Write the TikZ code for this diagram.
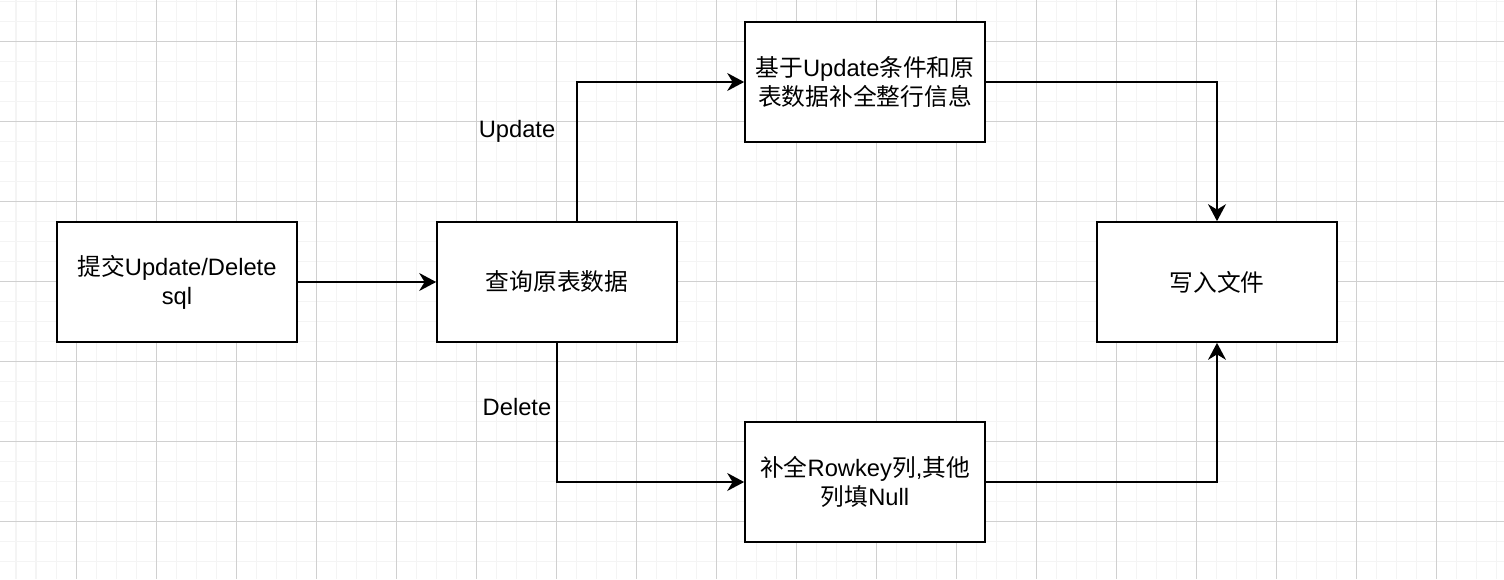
\documentclass[tikz,border=0pt]{standalone}
\usepackage{fontspec}
\setmainfont{Liberation Sans}
\newfontfamily\cjk{Noto Sans CJK SC}
\newcommand{\zh}[1]{{\cjk #1}}
\usetikzlibrary{arrows.meta}
\definecolor{gridminor}{HTML}{F4F4F4}
\definecolor{gridmajor}{HTML}{D0D0D0}

\begin{document}
\begin{tikzpicture}[x=0.02cm,y=-0.02cm]
				\tikzstyle{every node}+=[font=\fontsize{13.5}{16.5}\selectfont]
				\tikzstyle{box}=[draw=black, line width=1pt, fill=white, minimum width=4.8cm, minimum height=2.4cm, align=center, inner sep=0pt]
				\tikzstyle{flow}=[draw=black, line width=1pt, -{Stealth[length=0.34cm,width=0.36cm,inset=0.11cm]}]
				\useasboundingbox (0,0) rectangle (1504,579);
				\fill [white] (0,0) rectangle (1504,579);
				\foreach \x in {16,36,...,1500} \draw [gridminor, line width=0.57pt] (\x,0) -- (\x,579);
				\foreach \y in {1,21,...,579} \draw [gridminor, line width=0.57pt] (0,\y) -- (1504,\y);
				\foreach \x in {76,156,...,1500} \draw [gridmajor, line width=0.57pt] (\x,0) -- (\x,579);
				\foreach \y in {41,121,...,579} \draw [gridmajor, line width=0.57pt] (0,\y) -- (1504,\y);
				\node [box] (submit) at (177,282) {\zh{提交}Update/Delete\\sql};
				\node [box] (query) at (557,282) {\zh{查询原表数据}};
				\node [box] (fillrow) at (865,82) {\zh{基于}Update\zh{条件和原}\\\zh{表数据补全整行信息}};
				\node [box] (write) at (1217,282) {\zh{写入文件}};
				\node [box] (fillnull) at (865,482) {\zh{补全}Rowkey\zh{列},\zh{其他}\\\zh{列填}Null};
				\node (updlabel) at (517,131) {Update};
				\node (dellabel) at (517,407) {Delete};
				\draw [flow] (submit) -- (query);
				\draw [flow] ([xshift=0.4cm]query.north) |- (fillrow);
				\draw [flow] (fillrow) -| (write);
				\draw [flow] (query) |- (fillnull);
				\draw [flow] (fillnull) -| (write);
\end{tikzpicture}
\end{document}
